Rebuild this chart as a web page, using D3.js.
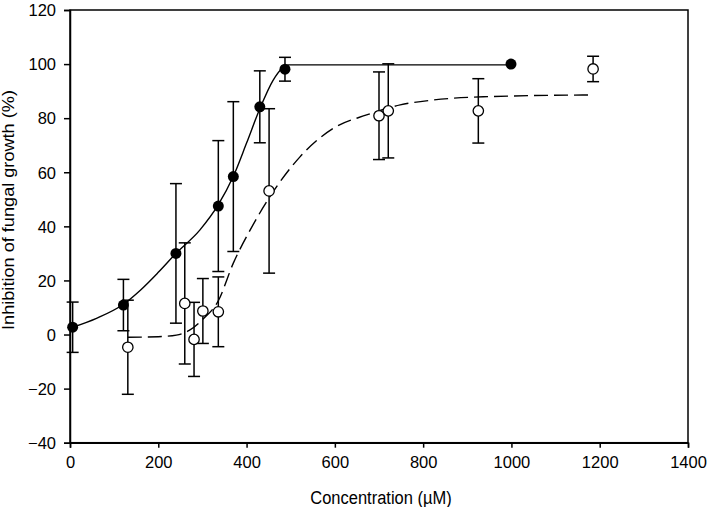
<!DOCTYPE html>
<html><head><meta charset="utf-8">
<script src="https://cdn.jsdelivr.net/npm/d3@7"></script>
<style>
html,body{margin:0;padding:0;background:#fff;}
text{font-family:"Liberation Sans",Arial,sans-serif;fill:#000;}
</style></head>
<body>
<svg id="c" width="707" height="507"></svg>
<script>
// Filled circles series
const filledX   = [6, 121, 240, 336, 370, 430, 487, 999];
const filledY   = [2.7, 10.9, 30, 47.5, 58.4, 84.2, 98.1, 100];
const filledErr = [9.3, 9.5, 25.8, 24.2, 27.7, 13.3, 4.4, 0];
// Open circles series
const openX   = [131, 260, 281, 301, 336, 451, 700, 721, 925, 1185];
const openY   = [-4.7, 11.5, -1.8, 8.7, 8.4, 53.1, 80.9, 82.7, 82.7, 98.2];
const openErr = [17.4, 22.4, 13.7, 12, 12.9, 30.4, 16.2, 17.4, 11.9, 4.7];
// Fitted curves
const solidFitX = [6, 60, 121, 160, 200, 240, 294, 336, 370, 400, 430, 460, 480, 495, 1000];
const solidFitY = [2.7, 6, 11.2, 16.5, 23, 30, 38.6, 48, 58.5, 70.8, 83.5, 94, 98.4, 99.7, 99.7];
const dashFitX = [131, 200, 241, 270, 300, 336, 370, 408, 453, 521, 596, 672, 748, 822, 936, 1185];
const dashFitY = [-1.0, -0.8, -0.2, 1.5, 5.5, 12.5, 26.4, 38.6, 51, 65.7, 76.2, 81.2, 84.9, 86.7, 87.9, 88.6];
// Axes
const xTicks = [0, 200, 400, 600, 800, 1000, 1200, 1400];
const yTicks = [-40, -20, 0, 20, 40, 60, 80, 100, 120];
const xTitle = "Concentration (µM)";
const yTitle = "Inhibition of fungal growth (%)";

const svg = d3.select("#c");
const L = 70, T = 10, R = 688, B = 442.7;
const x = d3.scaleLinear().domain([0, 1400]).range([L, R]);
const y = d3.scaleLinear().domain([-40, 120]).range([B, T]);

// frame
svg.append("rect").attr("x", L).attr("y", T).attr("width", R - L).attr("height", B - T)
  .attr("fill", "none").attr("stroke", "#000").attr("stroke-width", 1.5);

const xa = svg.append("g").attr("transform", `translate(0,${B})`)
  .call(d3.axisBottom(x).tickValues(xTicks).tickSize(5).tickPadding(9).tickFormat(d3.format("d")));
const ya = svg.append("g").attr("transform", `translate(${L},0)`)
  .call(d3.axisLeft(y).tickValues(yTicks).tickSize(6).tickPadding(8).tickFormat(d3.format("d")));
[xa, ya].forEach(a => {
  a.select(".domain").attr("stroke-width", 1.5);
  a.selectAll(".tick line").attr("stroke-width", 1.5);
  a.selectAll("text").attr("font-size", 16.5).attr("font-family", '"Liberation Sans",Arial,sans-serif');
});
xa.selectAll(".tick text").attr("dy", "0.71em");
ya.selectAll(".tick text").attr("dy", "0.35em");

svg.append("text").attr("transform", `translate(${(L + R) / 2 + 2},503.5) scale(1,1.07)`)
  .attr("text-anchor", "middle").attr("font-size", 16.5).text(xTitle);
svg.append("text").attr("transform", `translate(14,210) rotate(-90) scale(1.1,1)`)
  .attr("text-anchor", "middle").attr("font-size", 16.5).text(yTitle);

const line = d3.line().x(d => x(d[0])).y(d => y(d[1])).curve(d3.curveMonotoneX);
svg.append("path").datum(solidFitX.map((v, i) => [v, solidFitY[i]]))
  .attr("d", line).attr("fill", "none").attr("stroke", "#000").attr("stroke-width", 1.4);
svg.append("path").datum(dashFitX.map((v, i) => [v, dashFitY[i]]))
  .attr("d", line).attr("fill", "none").attr("stroke", "#000").attr("stroke-width", 1.4)
  .attr("stroke-dasharray", "14,6");

function errBars(xs, ys, es) {
  const g = svg.append("g").attr("stroke", "#000").attr("stroke-width", 1.5);
  xs.forEach((v, i) => {
    if (!es[i]) return;
    const cx = x(v), t = y(ys[i] + es[i]), b = y(ys[i] - es[i]);
    g.append("line").attr("x1", cx).attr("x2", cx).attr("y1", t).attr("y2", b);
    g.append("line").attr("x1", cx - 6).attr("x2", cx + 6).attr("y1", t).attr("y2", t);
    g.append("line").attr("x1", cx - 6).attr("x2", cx + 6).attr("y1", b).attr("y2", b);
  });
}
errBars(filledX, filledY, filledErr);
errBars(openX, openY, openErr);

svg.append("g").selectAll("circle").data(openX).join("circle")
  .attr("cx", d => x(d)).attr("cy", (d, i) => y(openY[i])).attr("r", 5.2)
  .attr("fill", "#fff").attr("stroke", "#000").attr("stroke-width", 1.3);
svg.append("g").selectAll("circle").data(filledX).join("circle")
  .attr("cx", d => x(d)).attr("cy", (d, i) => y(filledY[i])).attr("r", 5.5)
  .attr("fill", "#000");
</script>
</body></html>
